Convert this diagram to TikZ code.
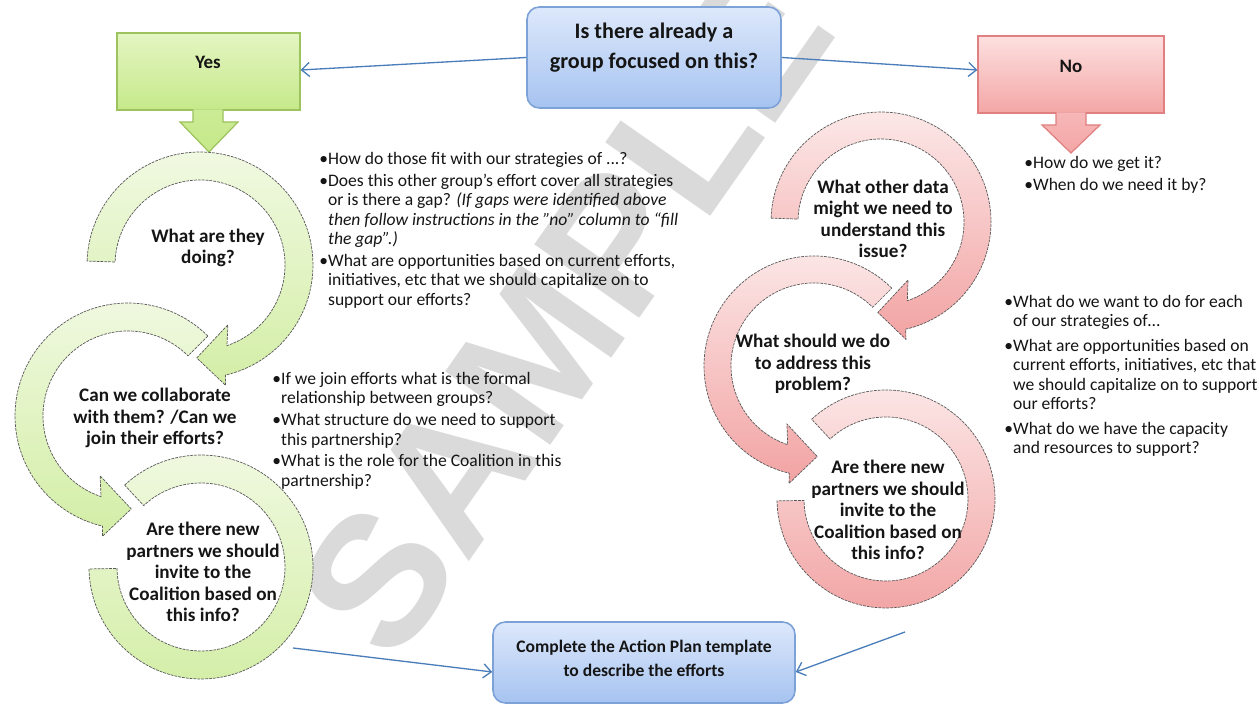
\documentclass[tikz,border=0pt]{standalone}
\usepackage{fontspec}
\setmainfont{Carlito}
\newfontfamily\wmfont{Liberation Sans}
\usetikzlibrary{arrows.meta,calc}
\definecolor{linkblue}{HTML}{4A7EBB}
\definecolor{qtop}{HTML}{DDE8FB}
\definecolor{qbot}{HTML}{A6C3F0}
\definecolor{qdraw}{HTML}{7DA2D8}
\definecolor{gtop}{HTML}{E4F5C2}
\definecolor{gbot}{HTML}{C6E98A}
\definecolor{gdraw}{HTML}{9DC35F}
\definecolor{atop}{HTML}{F1F9E2}
\definecolor{abot}{HTML}{D3EEA6}
\definecolor{ptop}{HTML}{FDE0E0}
\definecolor{pbot}{HTML}{F4A6A6}
\definecolor{pdraw}{HTML}{E08080}
\definecolor{rtop}{HTML}{FCE8E8}
\definecolor{rbot}{HTML}{F2A3A3}
\definecolor{txt}{HTML}{151515}
\definecolor{wm}{HTML}{DADADA}
\newcommand{\bl}{\makebox[5pt][l]{•}}
% clockwise band ending in an arrow head
\newcommand{\cwarc}[5]{%
  \pgfmathsetmacro\rmid{(#2+#3)/2-6}%
  \pgfmathsetmacro\rout{#3+10}%
  \pgfmathsetmacro\rin{#2-19}%
  \path[#5] ($(#1)+(#4:#3)$) arc[start angle=#4, end angle=-77, radius=#3]
    -- ($(#1)+(-78:\rout)$) -- ($(#1)+(-92:\rmid)$)
    -- ($(#1)+(-65:\rin)$) -- ($(#1)+(-71.5:#2)$)
    arc[start angle=-71.5, end angle=#4, radius=#2] -- cycle;}
% counter-clockwise band ending in an arrow head
\newcommand{\ccwarc}[5]{%
  \pgfmathsetmacro\rmid{(#2+#3)/2-6}%
  \pgfmathsetmacro\rout{#3+10}%
  \pgfmathsetmacro\rin{#2-19}%
  \path[#5] ($(#1)+(#4:#3)$) arc[start angle=#4, end angle=257, radius=#3]
    -- ($(#1)+(258:\rout)$) -- ($(#1)+(272:\rmid)$)
    -- ($(#1)+(245:\rin)$) -- ($(#1)+(251.5:#2)$)
    arc[start angle=251.5, end angle=#4, radius=#2] -- cycle;}
% plain clockwise band
\newcommand{\plainarc}[5]{%
  \path[#5] ($(#1)+(#4:#3)$) arc[start angle=#4, end angle=-179, radius=#3]
    -- ($(#1)+(-179:#2)$) arc[start angle=-179, end angle=#4, radius=#2] -- cycle;}
\begin{document}
\begin{tikzpicture}[x=0.02cm,y=0.02cm,
  link/.style={draw=linkblue, line width=0.75pt, -{Straight Barb[length=4.5pt,width=8pt,line width=0.75pt]}},
  qbox/.style={rounded corners=7pt, top color=qtop, bottom color=qbot, draw=qdraw, line width=0.9pt, inner sep=0pt},
  ybox/.style={top color=gtop, bottom color=gbot, draw=gdraw, line width=0.7pt, inner sep=0pt},
  nbox/.style={top color=ptop, bottom color=pbot, draw=pdraw, line width=0.7pt, inner sep=0pt},
  garc/.style={top color=atop, bottom color=abot, draw=black!65, line width=0.4pt, dash pattern=on 1.6pt off 0.6pt},
  parc/.style={top color=rtop, bottom color=rbot, draw=black!65, line width=0.4pt, dash pattern=on 1.6pt off 0.6pt},
  boxtext/.style={font=\bfseries\fontsize{12.6}{17}\selectfont, text=txt, align=center, inner sep=0pt},
  small/.style={font=\bfseries\fontsize{10.8}{13}\selectfont, text=txt, align=center, inner sep=0pt},
  circtext/.style={font=\bfseries\fontsize{10.9}{12.2}\selectfont, text=txt, align=center, inner sep=0pt},
  bullets/.style={font=\fontsize{10}{11.05}\selectfont, text=txt, anchor=north west, inner sep=0pt}
]
\useasboundingbox (0,0) rectangle (1259,713);
\fill[white] (0,0) rectangle (1259,713);
% watermark
\begin{scope}
\clip (0,0) rectangle (1259,713);
\node[font=\wmfont\bfseries\fontsize{106}{106}\selectfont, text=wm, rotate=55, inner sep=0pt] (wmk) at (565,400) {SAMPLE};
\end{scope}
% boxes
\node[qbox, minimum width=5.08cm, minimum height=2.02cm] (q) at (654,655.5) {};
\node[boxtext] (qt) at (654,665) {Is there already a\\group focused on this?};
\node[ybox, minimum width=3.66cm, minimum height=1.54cm] (yes) at (208.5,641.5) {};
\node[small] (yest) at (208,651) {Yes};
\node[nbox, minimum width=3.72cm, minimum height=1.54cm] (no) at (1071,638.5) {};
\node[small] (not) at (1071,647) {No};
\node[qbox, minimum width=6.04cm, minimum height=1.62cm] (final) at (644,50.5) {};
\node[font=\bfseries\fontsize{10}{13.6}\selectfont, text=txt, align=center, inner sep=0pt] (finalt) at (644,55) {Complete the Action Plan template\\to describe the efforts};
% block arrows under Yes / No
\path[top color=gbot!80!gtop, bottom color=gbot, draw=gdraw, line width=0.7pt]
  (193,603.5) -- (193,591) -- (180,591) -- (209,561) -- (238,591) -- (223,591) -- (223,603.5);
\path[top color=pbot!70!ptop, bottom color=pbot, draw=pdraw, line width=0.7pt]
  (1056,600.5) -- (1056,588) -- (1042,588) -- (1071,560) -- (1100,588) -- (1086,588) -- (1086,600.5);
% connectors
\draw[link] (q.west) -- ($(yes.east)+(0,1.5)$);
\draw[link] (q.east) -- ($(no.west)+(0,4.5)$);
\coordinate (lsrc) at (293,65);
\coordinate (rsrc) at (905,81);
\draw[link] (lsrc) -- ($(final.west)+(0,-9.5)$);
\draw[link] (rsrc) -- ($(final.east)+(0,-9.5)$);
% left circular arrows
\coordinate (cL1) at (200,448);
\coordinate (cL2) at (128,297);
\coordinate (cL3) at (201,146);
\plainarc{cL3}{84}{112}{133}{garc}
\ccwarc{cL2}{85}{113}{45}{garc}
\cwarc{cL1}{85}{113}{178}{garc}
% right circular arrows
\coordinate (cR1) at (881,491);
\coordinate (cR2) at (814,347);
\coordinate (cR3) at (886,214);
\plainarc{cR3}{82}{109}{133}{parc}
\ccwarc{cR2}{83}{110}{45}{parc}
\cwarc{cR1}{83}{110}{178}{parc}
% circle texts
\node[circtext] (tL1) at (208,465) {What are they\\doing?};
\node[circtext] (tL2) at (155,295) {Can we collaborate\\with them? /Can we\\join their efforts?};
\node[circtext] (tL3) at (203,141) {Are there new\\partners we should\\invite to the\\Coalition based on\\this info?};
\node[circtext] (tR1) at (883,494) {What other data\\might we need to\\understand this\\issue?};
\node[circtext] (tR2) at (813,349) {What should we do\\to address this\\problem?};
\node[circtext] (tR3) at (888,203) {Are there new\\partners we should\\invite to the\\Coalition based on\\this info?};
% bullet texts
\node[bullets] (bA) at (319,562.6) {\begin{tabular}{@{}l@{}l@{}}
\bl&How do those fit with our strategies of ...?\\[1.4pt]
\bl&Does this other group’s effort cover all strategies\\
&or is there a gap? \textit{(If gaps were identified above}\\
&\textit{then follow instructions in the "no" column to “fill}\\
&\textit{the gap”.)}\\[1.4pt]
\bl&What are opportunities based on current efforts,\\
&initiatives, etc that we should capitalize on to\\
&support our efforts?
\end{tabular}};
\node[bullets] (bB) at (272,342.6) {\begin{tabular}{@{}l@{}l@{}}
\bl&If we join efforts what is the formal\\
&relationship between groups?\\[1.4pt]
\bl&What structure do we need to support\\
&this partnership?\\[1.4pt]
\bl&What is the role for the Coalition in this\\
&partnership?
\end{tabular}};
\node[bullets] (bC) at (1024,558.6) {\begin{tabular}{@{}l@{}l@{}}
\bl&How do we get it?\\[1.4pt]
\bl&When do we need it by?
\end{tabular}};
\node[bullets] (bD) at (1004,419.6) {\begin{tabular}{@{}l@{}l@{}}
\bl&What do we want to do for each\\
&of our strategies of…\\[3pt]
\bl&What are opportunities based on\\
&current efforts, initiatives, etc that\\
&we should capitalize on to support\\
&our efforts?\\[3pt]
\bl&What do we have the capacity\\
&and resources to support?
\end{tabular}};
\end{tikzpicture}
\end{document}
